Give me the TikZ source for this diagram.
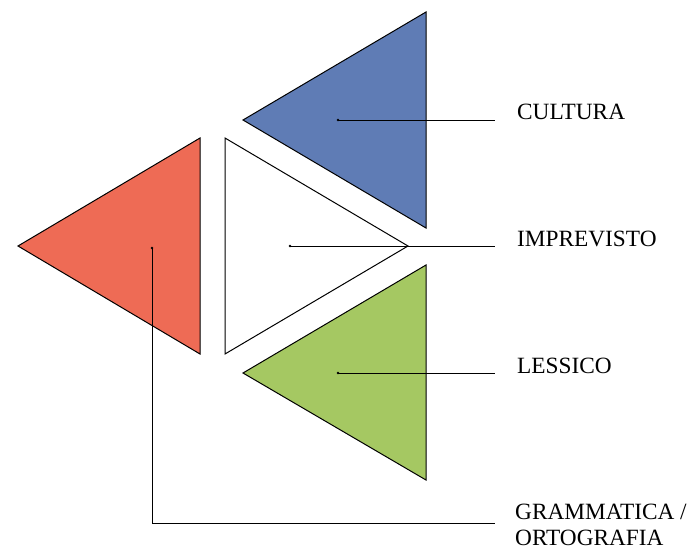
\documentclass[tikz,border=0pt]{standalone}
\usepackage{fontspec}
\setmainfont{Liberation Serif}
\usepackage{tikz}

\definecolor{culturablue}{RGB}{95,124,181}
\definecolor{grammred}{RGB}{238,107,85}
\definecolor{lessicogreen}{RGB}{165,200,98}

\tikzset{
    tri/.style={draw=black, line width=1pt, line join=miter},
    pin/.style={circle, fill=black, inner sep=0pt, minimum size=2.6pt},
    lead/.style={line width=0.8pt},
    lbl/.style={anchor=base west, inner sep=0pt, font=\fontsize{23.3}{26}\selectfont, align=left}
}

\begin{document}
\begin{tikzpicture}[x=1pt, y=-1pt]
            \useasboundingbox (0,0) rectangle (696,549);

            % triangles
            \filldraw[tri, fill=culturablue] (243,120) -- (426,12) -- (426,228) -- cycle;
            \filldraw[tri, fill=white] (225,138) -- (225,354) -- (408,246) -- cycle;
            \filldraw[tri, fill=lessicogreen] (243,373) -- (426,265) -- (426,480) -- cycle;
            \filldraw[tri, fill=grammred] (18,246) -- (200,138) -- (200,354) -- cycle;

            % centre points
            \node[pin] (cultura) at (338,120) {};
            \node[pin] (imprevisto) at (290,246) {};
            \node[pin] (lessico) at (338,373) {};
            \node[pin] (grammatica) at (152,248) {};

            % line ends
            \coordinate (culturaend) at (495,120);
            \coordinate (imprevistoend) at (495,246);
            \coordinate (lessicoend) at (495,373);
            \coordinate (grammbend) at (152,523);
            \coordinate (grammend) at (495,523);

            \draw[lead] (cultura.center) -- (culturaend);
            \draw[lead] (imprevisto.center) -- (imprevistoend);
            \draw[lead] (lessico.center) -- (lessicoend);
            \draw[lead] (grammatica.center) -- (grammbend) -- (grammend);

            % labels
            \node[lbl] (culturalbl) at (517,119) {CULTURA};
            \node[lbl] (imprevistolbl) at (517,246) {IMPREVISTO};
            \node[lbl] (lessicolbl) at (517,373) {LESSICO};
            \node[lbl] (grammaticalbl) at (515,545) {GRAMMATICA /\\ORTOGRAFIA};

        \end{tikzpicture}
\end{document}
